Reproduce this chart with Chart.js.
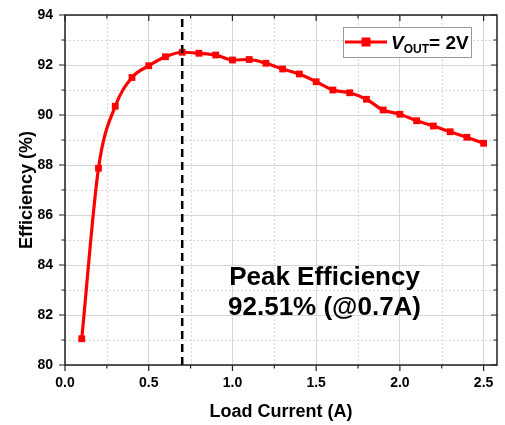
<!DOCTYPE html>
<html>
<head>
<meta charset="utf-8">
<script src="https://cdn.jsdelivr.net/npm/chart.js@4.4.0/dist/chart.umd.min.js"></script>
<style>
  html, body { margin: 0; padding: 0; background: #fff; }
  #wrap { width: 505px; height: 425px; }
</style>
</head>
<body>
<div id="wrap"><canvas id="effChart"></canvas></div>
<script>
// data
const loadCurrent = [0.1, 0.2, 0.3, 0.4, 0.5, 0.6, 0.7, 0.8, 0.9, 1.0, 1.1, 1.2, 1.3,
  1.4, 1.5, 1.6, 1.7, 1.8, 1.9, 2.0, 2.1, 2.2, 2.3, 2.4, 2.5];
const efficiency = [81.05, 87.87, 90.35, 91.5, 91.97, 92.33, 92.51, 92.47, 92.4, 92.2, 92.22,
  92.07, 91.84, 91.64, 91.33, 91.0, 90.89, 90.63, 90.2, 90.03, 89.77, 89.56, 89.33, 89.11, 88.87];
const peakCurrent = 0.7;
const peakLabel = ['Peak Efficiency', '92.51% (@0.7A)'];
const seriesLabel = { main: 'V', sub: 'OUT', rest: '= 2V' };
const xRange = [0, 2.58];
const yRange = [80, 94];

const FONT = '"Liberation Sans", Arial, sans-serif';

const xyPoints = loadCurrent.map((x, i) => ({ x: x, y: efficiency[i] }));
const peakLine = [{ x: peakCurrent, y: yRange[0] }, { x: peakCurrent, y: yRange[1] }];

// minor grid, frame, ticks on all four sides
const framePlugin = {
  id: 'frame',
  beforeDatasetsDraw(chart) {
    const { ctx, chartArea: a, scales: { x, y } } = chart;
    ctx.save();
    ctx.strokeStyle = '#d6d6d6';
    ctx.lineWidth = 1;
    ctx.setLineDash([2, 2]);
    for (let v = 0.25; v < xRange[1]; v += 0.5) {
      const px = Math.round(x.getPixelForValue(v)) + 0.5;
      ctx.beginPath(); ctx.moveTo(px, a.top); ctx.lineTo(px, a.bottom); ctx.stroke();
    }
    for (let v = yRange[0] + 1; v < yRange[1]; v += 2) {
      const py = Math.round(y.getPixelForValue(v)) + 0.5;
      ctx.beginPath(); ctx.moveTo(a.left, py); ctx.lineTo(a.right, py); ctx.stroke();
    }
    ctx.restore();
  },
  afterDatasetsDraw(chart) {
    const { ctx, chartArea: a, scales: { x, y } } = chart;
    ctx.save();
    ctx.strokeStyle = '#222';
    ctx.lineWidth = 1.5;
    ctx.strokeRect(a.left, a.top, a.right - a.left, a.bottom - a.top);
    ctx.lineWidth = 1.2;
    for (let v = 0; v < xRange[1]; v += 0.25) {
      const major = Math.abs(v % 0.5) < 1e-6;
      const len = major ? 6 : 3.5;
      const px = x.getPixelForValue(v);
      ctx.beginPath();
      ctx.moveTo(px, a.bottom); ctx.lineTo(px, a.bottom + len);
      ctx.moveTo(px, a.top); ctx.lineTo(px, a.top + len);
      ctx.stroke();
    }
    for (let v = yRange[0]; v <= yRange[1]; v += 1) {
      const major = (v - yRange[0]) % 2 === 0;
      const len = major ? 6 : 3.5;
      const py = y.getPixelForValue(v);
      ctx.beginPath();
      ctx.moveTo(a.left, py); ctx.lineTo(a.left - len, py);
      ctx.moveTo(a.right, py); ctx.lineTo(a.right - len, py);
      ctx.stroke();
    }
    ctx.restore();
  },
  afterDraw(chart) {
    const { ctx, scales: { x, y } } = chart;
    ctx.save();
    // peak note
    ctx.fillStyle = '#000';
    ctx.font = 'bold 26px ' + FONT;
    ctx.textAlign = 'center';
    ctx.textBaseline = 'alphabetic';
    const cx = x.getPixelForValue(1.55);
    ctx.fillText(peakLabel[0], cx, y.getPixelForValue(83.2));
    ctx.fillText(peakLabel[1], cx, y.getPixelForValue(82.0));

    // legend box
    const bx = 343, by = 27, bw = 128, bh = 30;
    ctx.strokeStyle = '#999';
    ctx.lineWidth = 1;
    ctx.fillStyle = '#fff';
    ctx.fillRect(bx, by, bw, bh);
    ctx.strokeRect(bx + 0.5, by + 0.5, bw, bh);
    const ly = by + 15;
    ctx.strokeStyle = '#ff0000';
    ctx.lineWidth = 3;
    ctx.beginPath(); ctx.moveTo(bx + 2, ly); ctx.lineTo(bx + 44, ly); ctx.stroke();
    ctx.fillStyle = '#ff0000';
    ctx.fillRect(bx + 23 - 4.5, ly - 4.5, 9, 9);
    ctx.fillStyle = '#000';
    ctx.textAlign = 'left';
    let tx = bx + 48;
    const base = ly + 7;
    ctx.font = 'italic bold 19px ' + FONT;
    ctx.fillText(seriesLabel.main, tx, base);
    tx += ctx.measureText(seriesLabel.main).width;
    ctx.font = 'bold 12px ' + FONT;
    ctx.fillText(seriesLabel.sub, tx, base + 4);
    tx += ctx.measureText(seriesLabel.sub).width;
    ctx.font = 'bold 19px ' + FONT;
    ctx.fillText(seriesLabel.rest, tx, base);
    ctx.restore();
  }
};

const ctx = document.getElementById('effChart').getContext('2d');

new Chart(ctx, {
  type: 'line',
  data: {
    datasets: [
      {
        label: 'peak',
        data: peakLine,
        borderColor: '#000',
        borderWidth: 2.5,
        borderDash: [8, 5],
        pointRadius: 0,
        order: 0
      },
      {
        label: 'VOUT = 2V',
        data: xyPoints,
        borderColor: '#ff0000',
        backgroundColor: '#ff0000',
        borderWidth: 3.2,
        tension: 0.4,
        cubicInterpolationMode: 'monotone',
        pointStyle: 'rect',
        pointRadius: 4.8,
        pointHoverRadius: 4.8,
        pointBorderWidth: 0,
        order: 1
      }
    ]
  },
  options: {
    responsive: true,
    maintainAspectRatio: false,
    animation: false,
    events: [],
    layout: { padding: { top: 15, right: 8, left: 0, bottom: 0 } },
    plugins: {
      legend: { display: false },
      tooltip: { enabled: false }
    },
    scales: {
      x: {
        type: 'linear',
        min: xRange[0],
        max: xRange[1],
        afterFit(scale) { scale.height = 60; },
        ticks: {
          stepSize: 0.5,
          includeBounds: false,
          padding: 10,
          color: '#000',
          font: { family: FONT, size: 14, weight: 'bold' },
          maxRotation: 0,
          callback: (v) => Number(v).toFixed(1)
        },
        grid: { color: '#d6d6d6', lineWidth: 1, drawTicks: false },
        border: { display: false },
        title: {
          display: true,
          text: 'Load Current (A)',
          color: '#000',
          font: { family: FONT, size: 18, weight: 'bold' },
          padding: { top: 0, bottom: 2 }
        }
      },
      y: {
        min: yRange[0],
        max: yRange[1],
        afterFit(scale) {
          scale.width = 65;
          scale.paddingTop = 0;
          scale.paddingBottom = 0;
        },
        ticks: {
          stepSize: 2,
          padding: 12,
          color: '#000',
          font: { family: FONT, size: 14, weight: 'bold' }
        },
        grid: { color: '#d6d6d6', lineWidth: 1, drawTicks: false },
        border: { display: false },
        title: {
          display: true,
          text: 'Efficiency (%)',
          color: '#000',
          font: { family: FONT, size: 18, weight: 'bold' },
          padding: { top: 16, bottom: 0 }
        }
      }
    }
  },
  plugins: [framePlugin]
});
</script>
</body>
</html>
